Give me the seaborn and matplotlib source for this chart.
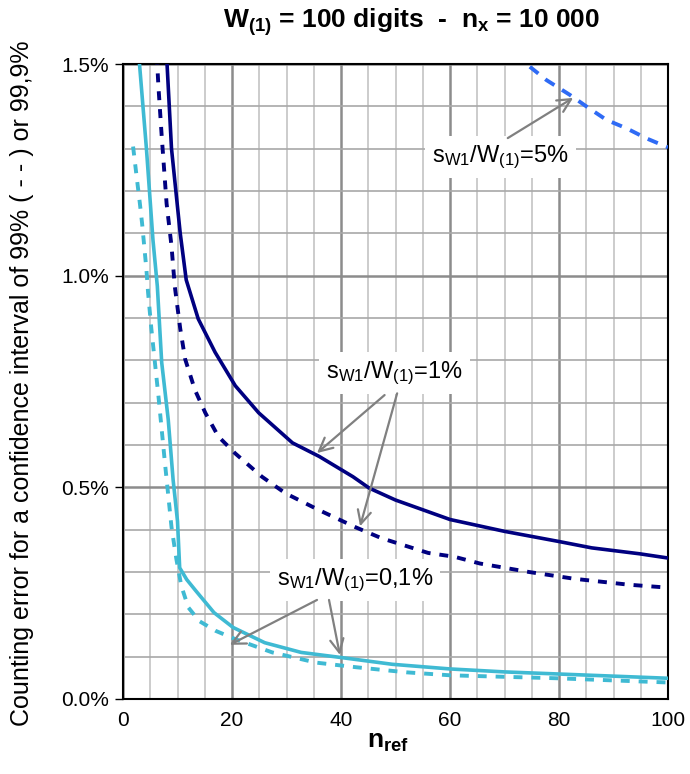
import numpy as np
import pandas as pd
import matplotlib
matplotlib.use("Agg")
import matplotlib.pyplot as plt
import seaborn as sns
from matplotlib.ticker import MultipleLocator, FuncFormatter

# values (x = n_ref, y = counting error in %)
cyan_solid_n = [2.9, 4.3, 5.5, 6.3, 7.1, 8.3, 9.2, 10.0, 10.4, 11.7, 13.4, 16.7, 20.2, 26, 32.7, 40, 49.4, 60, 70, 80, 90, 100]
cyan_solid_y = [1.52, 1.30, 1.084, 0.975, 0.795, 0.66, 0.517, 0.42, 0.31, 0.282, 0.255, 0.204, 0.169, 0.133, 0.11, 0.098, 0.082, 0.071, 0.064, 0.059, 0.054, 0.049]

cyan_dash_n = [1.85, 2.5, 3.1, 3.5, 4.3, 4.6, 5.2, 6.5, 7.7, 8.9, 9.8, 10.7, 12, 14, 17, 20.7, 27.4, 35.4, 42.8, 52, 60, 79.5, 100]
cyan_dash_y = [1.305, 1.234, 1.17, 1.124, 1.014, 0.96, 0.875, 0.716, 0.557, 0.406, 0.33, 0.267, 0.216, 0.184, 0.161, 0.141, 0.11, 0.086, 0.075, 0.063, 0.056, 0.049, 0.039]

navy_solid_n = [8.0, 8.9, 10.5, 11.6, 13.8, 16.9, 20.6, 24.9, 31.1, 36, 42.2, 45.2, 50, 60, 70, 80, 86, 94.8, 100]
navy_solid_y = [1.52, 1.30, 1.10, 0.99, 0.898, 0.819, 0.74, 0.676, 0.605, 0.573, 0.525, 0.498, 0.47, 0.424, 0.396, 0.372, 0.357, 0.343, 0.333]

navy_dash_n = [6.2, 6.5, 7.1, 8.0, 8.9, 9.5, 10.5, 11.4, 13.2, 15.1, 17.5, 20.6, 25.5, 29.8, 36, 42.8, 47.4, 56, 60.8, 65.5, 74.5, 82.8, 92.8, 100]
navy_dash_y = [1.52, 1.447, 1.33, 1.17, 1.07, 0.975, 0.875, 0.803, 0.73, 0.676, 0.62, 0.58, 0.525, 0.486, 0.446, 0.405, 0.38, 0.345, 0.336, 0.32, 0.30, 0.284, 0.27, 0.263]

blue_dash_n = [71.5, 74.6, 77.7, 82, 85, 88.7, 92.4, 96.1, 100]
blue_dash_y = [1.517, 1.494, 1.462, 1.427, 1.40, 1.368, 1.348, 1.324, 1.303]

sns.set_style("white")
plt.rcParams['font.family'] = ['Liberation Sans', 'DejaVu Sans']
plt.rcParams['mathtext.fontset'] = 'custom'
plt.rcParams['mathtext.rm'] = 'Liberation Sans'
plt.rcParams['mathtext.it'] = 'Liberation Sans:italic'
plt.rcParams['mathtext.bf'] = 'Liberation Sans:bold'
plt.rcParams['text.color'] = 'black'
plt.rcParams['xtick.color'] = 'black'
plt.rcParams['ytick.color'] = 'black'
plt.rcParams['axes.labelcolor'] = 'black'

fig = plt.figure(figsize=(6.9, 7.74), dpi=100)
ax = fig.add_axes([123/690, 1 - 699/774, 545/690, 635/774])

cyan = "#3FBAD3"
navy = "#000080"
blue = "#2F6BF5"

sns.lineplot(x=cyan_solid_n, y=cyan_solid_y, ax=ax, color=cyan, lw=2.6, zorder=4)
sns.lineplot(x=cyan_dash_n, y=cyan_dash_y, ax=ax, color=cyan, lw=2.8, zorder=4)
sns.lineplot(x=navy_solid_n, y=navy_solid_y, ax=ax, color=navy, lw=2.6, zorder=4)
sns.lineplot(x=navy_dash_n, y=navy_dash_y, ax=ax, color=navy, lw=2.8, zorder=4)
sns.lineplot(x=blue_dash_n, y=blue_dash_y, ax=ax, color=blue, lw=2.8, zorder=4)

# dashed = 99 %, solid = 99.9 %
lines = ax.get_lines()
lines[1].set_dashes((2.3, 2.3))
lines[3].set_dashes((2.3, 2.3))
lines[4].set_dashes((2.8, 2.3))

ax.set_xlim(0, 100)
ax.set_ylim(0, 1.5)
ax.xaxis.set_major_locator(MultipleLocator(20))
ax.xaxis.set_minor_locator(MultipleLocator(5))
ax.yaxis.set_major_locator(MultipleLocator(0.5))
ax.yaxis.set_minor_locator(MultipleLocator(0.1))
ax.yaxis.set_major_formatter(FuncFormatter(lambda v, p: f"{v:.1f}%"))

ax.grid(which='major', color='#8C8C8C', lw=1.8, zorder=1)
ax.grid(which='minor', axis='x', color='#C4C4C4', lw=1.2, zorder=1)
ax.grid(which='minor', axis='y', color='#A8A8A8', lw=1.2, zorder=1)
ax.set_axisbelow(True)

for s in ax.spines.values():
    s.set_color('black')
    s.set_linewidth(1.5)
ax.tick_params(axis='both', which='major', labelsize=15, color='black', width=1, direction='out')
ax.tick_params(axis='both', which='minor', length=0)
ax.tick_params(axis='y', which='major', left=True, length=6, pad=4)
ax.tick_params(axis='x', which='major', bottom=True, length=0, pad=9)
ax.set_xlabel("")
ax.set_ylabel("")

fs = 17
box = dict(boxstyle='square,pad=0.3', fc='white', ec='none')
arrow = dict(arrowstyle='->', color='#808080', lw=1.6, mutation_scale=24, shrinkA=0, shrinkB=0)
lab = r"$\mathregular{s_{W1}/W_{(1)}}$="

ax.text(69.2, 1.28, lab + "5%", fontsize=fs, ha='center', va='center', bbox=box, zorder=5)
ax.annotate("", xy=(82.6, 1.42), xytext=(70.6, 1.325), arrowprops=arrow, zorder=6)

ax.text(49.8, 0.770, lab + "1%", fontsize=fs, ha='center', va='center', bbox=box, zorder=5)
ax.annotate("", xy=(35.6, 0.581), xytext=(48.0, 0.718), arrowprops=arrow, zorder=6)
ax.annotate("", xy=(43.5, 0.408), xytext=(50.3, 0.722), arrowprops=arrow, zorder=6)

ax.text(42.6, 0.281, lab + "0,1%", fontsize=fs, ha='center', va='center', bbox=box, zorder=5)
ax.annotate("", xy=(19.6, 0.128), xytext=(35.6, 0.234), arrowprops=arrow, zorder=6)
ax.annotate("", xy=(39.8, 0.104), xytext=(37.8, 0.234), arrowprops=arrow, zorder=6)

fig.text(412/690, 1 - 22/774, r"$\mathbf{W_{(1)}}$ = 100 digits  -  $\mathbf{n_{x}}$ = 10 000",
         fontsize=19, fontweight='bold', ha='center', va='center')
fig.text(22/690, 1 - 383/774, "Counting error for a confidence interval of 99% ( - - ) or 99,9%",
         fontsize=18, rotation=90, ha='center', va='center')
fig.text(388/690, 1 - 742/774, r"$\mathbf{n_{ref}}$", fontsize=19, fontweight='bold', ha='center', va='center')

fig.savefig("out.png", dpi=100)
